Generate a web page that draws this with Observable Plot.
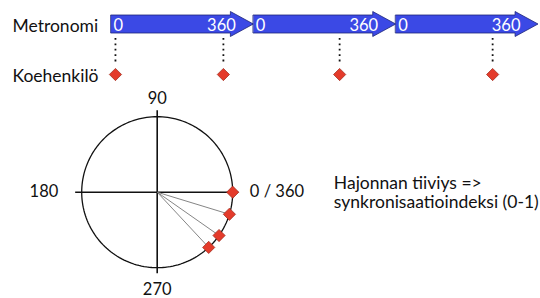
<!DOCTYPE html>
<html>
<head>
<meta charset="utf-8">
<script src="https://cdn.jsdelivr.net/npm/d3@7"></script>
<script src="https://cdn.jsdelivr.net/npm/@observablehq/plot@0.6"></script>
<style>
  html, body { margin: 0; padding: 0; background: #fff; }
  #wrap { position: relative; width: 540px; height: 298px; overflow: hidden; }
  #wrap svg { position: absolute; left: 0; top: 0; }
  g[aria-label="row-labels"] text { letter-spacing: 0.9px; }
</style>
</head>
<body>
<div id="wrap"></div>
<script>
// ---- data ----
const rowLabels = ["Metronomi", "Koehenkilö"];
const cycleStarts = [0, 360, 720];          // metronome cycles (degrees)
const cycleStartLabel = "0";
const cycleEndLabel = "360";
const tapDegrees = [10, 283, 577, 964];     // subject taps on the timeline (degrees)
const subjectAngles = [0, 343, 325, 313];   // phases on the circle (degrees)
const angleLabels = ["0 / 360", "90", "180", "270"];
const angleLabelDegrees = [0, 90, 180, 270];
const noteLines = ["Hajonnan tiiviys =>", "synkronisaatioindeksi (0-1)"];

const FONT = "Lato, 'Open Sans', sans-serif";
const BLUE = "#3b49e5", BLUE_STROKE = "#1d2478";
const RED = "#e43b2b", RED_STROKE = "#9b2618";
const rad = d => d * Math.PI / 180;

const diamond = {
  draw(ctx, size) {
    const h = Math.sqrt(size / Math.PI) * 1.25;
    ctx.moveTo(0, -h); ctx.lineTo(h, 0); ctx.lineTo(0, h); ctx.lineTo(-h, 0); ctx.closePath();
  }
};

// ---- circle plot ----
const cx = 156.7, cy = 191.7, R = 75.5;
const circlePts = d3.range(0, 361, 2).map(a => ({x: Math.cos(rad(a)), y: Math.sin(rad(a))}));
const lbl = angleLabelDegrees.map((d, i) => ({deg: d, label: angleLabels[i]}));
const LBL = 16.5;

const circlePlot = Plot.plot({
  width: 540, height: 298, margin: 0,
  x: {domain: [-1, 1], range: [cx - R, cx + R], axis: null},
  y: {domain: [-1, 1], range: [cy + R, cy - R], axis: null},
  style: {fontFamily: FONT, background: "transparent", color: "#111"},
  marks: [
    Plot.line(circlePts, {x: "x", y: "y", stroke: "#111", strokeWidth: 1.3}),
    Plot.ruleY([0], {x1: -1.08, x2: 1.08, stroke: "#111", strokeWidth: 1.6}),
    Plot.ruleX([0], {y1: -1.08, y2: 1.08, stroke: "#111", strokeWidth: 1.6}),
    Plot.link(subjectAngles.filter(a => a !== 0), {
      x1: () => 0, y1: () => 0,
      x2: a => Math.cos(rad(a)), y2: a => Math.sin(rad(a)),
      stroke: "#777", strokeWidth: 0.9
    }),
    Plot.dot(subjectAngles, {
      x: a => Math.cos(rad(a)), y: a => Math.sin(rad(a)),
      symbol: diamond, r: 4.9, fill: RED, stroke: RED_STROKE, strokeWidth: 0.7
    }),
    Plot.text(lbl.filter(d => d.deg === 0), {x: d => 1.227 * Math.cos(rad(d.deg)), y: () => 0, text: "label", textAnchor: "start", fontSize: LBL}),
    Plot.text(lbl.filter(d => d.deg === 180), {x: d => 1.31 * Math.cos(rad(d.deg)), y: () => 0, text: "label", textAnchor: "end", fontSize: LBL}),
    Plot.text(lbl.filter(d => d.deg === 90), {x: () => 0, y: d => 1.232 * Math.sin(rad(d.deg)), text: "label", fontSize: LBL}),
    Plot.text(lbl.filter(d => d.deg === 270), {x: () => 0, y: d => 1.298 * Math.sin(rad(d.deg)), text: "label", fontSize: LBL}),
    Plot.text([noteLines.join("\n")], {x: () => 2.34, y: () => 0, text: d => d, textAnchor: "start", lineAnchor: "middle", lineHeight: 1.12, fontSize: 17.5})
  ]
});

// ---- timeline plot ----
const headLen = 58, bodyHalf = 0.18, headHalf = 0.25;
const arrowPts = cycleStarts.flatMap(c => [
  {c, x: c, y1: -bodyHalf, y2: bodyHalf},
  {c, x: c + 360 - headLen, y1: -bodyHalf, y2: bodyHalf},
  {c, x: c + 360 - headLen, y1: -headHalf, y2: headHalf},
  {c, x: c + 360, y1: 0, y2: 0}
]);

const timelinePlot = Plot.plot({
  width: 540, height: 90, margin: 0,
  x: {domain: [0, 1080], range: [111, 538], axis: null},
  y: {domain: [0, 1], range: [24, 74], axis: null},
  style: {fontFamily: FONT, background: "transparent", color: "#111"},
  marks: [
    Plot.areaY(arrowPts, {x: "x", y1: "y1", y2: "y2", z: "c", fill: BLUE, stroke: BLUE_STROKE, strokeWidth: 0.8, curve: "linear"}),
    Plot.text(cycleStarts, {x: c => c, y: () => 0, text: () => cycleStartLabel, textAnchor: "start", dx: 2, dy: 1.5, fill: "white", fontSize: 16.5}),
    Plot.text(cycleStarts, {x: c => c + 360, y: () => 0, text: () => cycleEndLabel, textAnchor: "end", dx: -18, dy: 1.5, fill: "white", fontSize: 16.5}),
    Plot.ruleX(tapDegrees, {y1: 0.28, y2: 0.76, stroke: "#111", strokeWidth: 1.8, strokeDasharray: "1.8,3.6"}),
    Plot.dot(tapDegrees, {x: d => d, y: () => 1, symbol: diamond, r: 4.9, fill: RED, stroke: RED_STROKE, strokeWidth: 0.7}),
    Plot.text(rowLabels, {frameAnchor: "left", dx: 12, dy: 1.8, y: (d, i) => i, text: d => d, textAnchor: "start", fontSize: 17.5, ariaLabel: "row-labels"})
  ]
});

const wrap = document.getElementById("wrap");
wrap.appendChild(circlePlot);
wrap.appendChild(timelinePlot);
</script>
</body>
</html>
